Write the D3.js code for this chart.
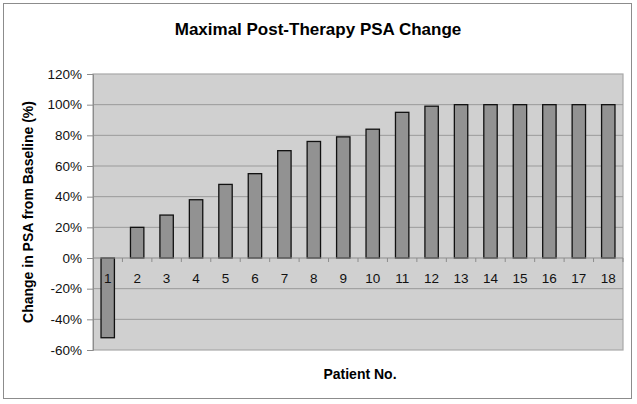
<!DOCTYPE html>
<html><head><meta charset="utf-8">
<script src="https://cdn.jsdelivr.net/npm/d3@7"></script>
<style>body{margin:0;background:#fff}svg{display:block}text{font-family:Arial,"Liberation Sans",sans-serif}</style>
</head><body>
<script>
const patients = ["1","2","3","4","5","6","7","8","9","10","11","12","13","14","15","16","17","18"];
const psaChange = [-52,20,28,38,48,55,70,76,79,84,95,99,100,100,100,100,100,100];
const yTicks = [-60,-40,-20,0,20,40,60,80,100,120];
const title = "Maximal Post-Therapy PSA Change";
const xTitle = "Patient No.";
const yTitle = "Change in PSA from Baseline (%)";

const W=637,H=404;
const svg=d3.select("body").append("svg").attr("width",W).attr("height",H);
svg.append("rect").attr("x",3.5).attr("y",3.5).attr("width",628).attr("height",395)
  .attr("fill","#fff").attr("stroke","#8c8c8c").attr("stroke-width",1);

const L=93,R=623,T=74,B=350;
const x=d3.scaleBand().domain(patients).range([L,R]).paddingInner(0.545).paddingOuter(0.2725);
const y=d3.scaleLinear().domain([-60,120]).range([B,T]);

svg.append("rect").attr("x",L).attr("y",T).attr("width",R-L).attr("height",B-T)
  .attr("fill","#d0d0d0").attr("stroke","#a8a8a8").attr("stroke-width",1.2);

svg.append("g").selectAll("line").data(yTicks.filter(d=>d!==-60&&d!==120&&d!==0)).join("line")
  .attr("x1",L).attr("x2",R).attr("y1",d=>y(d)).attr("y2",d=>y(d))
  .attr("stroke","#9a9a9a").attr("stroke-width",1);

// y axis
const ya=svg.append("g").attr("transform",`translate(${L},0)`)
  .call(d3.axisLeft(y).tickValues(yTicks).tickFormat(d=>d+"%").tickSize(6).tickPadding(5));
ya.select(".domain").attr("stroke","#8c8c8c");
ya.selectAll(".tick line").attr("stroke","#8c8c8c");
ya.selectAll("text").attr("font-size",13.5).attr("fill","#111");

// bars
svg.append("g").selectAll("rect").data(psaChange).join("rect")
  .attr("x",(d,i)=>x(patients[i]))
  .attr("width",x.bandwidth())
  .attr("y",d=>y(Math.max(0,d)))
  .attr("height",d=>Math.abs(y(d)-y(0)))
  .attr("fill","#929292").attr("stroke","#111").attr("stroke-width",1.3);

// zero axis
svg.append("line").attr("x1",L).attr("x2",R).attr("y1",y(0)).attr("y2",y(0)).attr("stroke","#8c8c8c");
const step=x.step();
svg.append("g").selectAll("line").data(d3.range(1,patients.length+1)).join("line")
  .attr("x1",d=>L+d*step).attr("x2",d=>L+d*step).attr("y1",y(0)).attr("y2",y(0)+4)
  .attr("stroke","#8c8c8c");
svg.append("g").selectAll("text").data(patients).join("text")
  .attr("x",d=>x(d)+x.bandwidth()/2).attr("y",y(0)+25)
  .attr("text-anchor","middle").attr("font-size",13.5).attr("fill","#111").text(d=>d);

svg.append("text").attr("x",318).attr("y",35).attr("text-anchor","middle")
  .attr("font-size",17).attr("font-weight","bold").text(title);
svg.append("text").attr("x",(L+R)/2+2).attr("y",379).attr("text-anchor","middle")
  .attr("font-size",14).attr("font-weight","bold").text(xTitle);
svg.append("text").attr("transform",`translate(33,${(T+B)/2}) rotate(-90)`).attr("text-anchor","middle")
  .attr("font-size",14).attr("font-weight","bold").text(yTitle);
</script>
</body></html>
